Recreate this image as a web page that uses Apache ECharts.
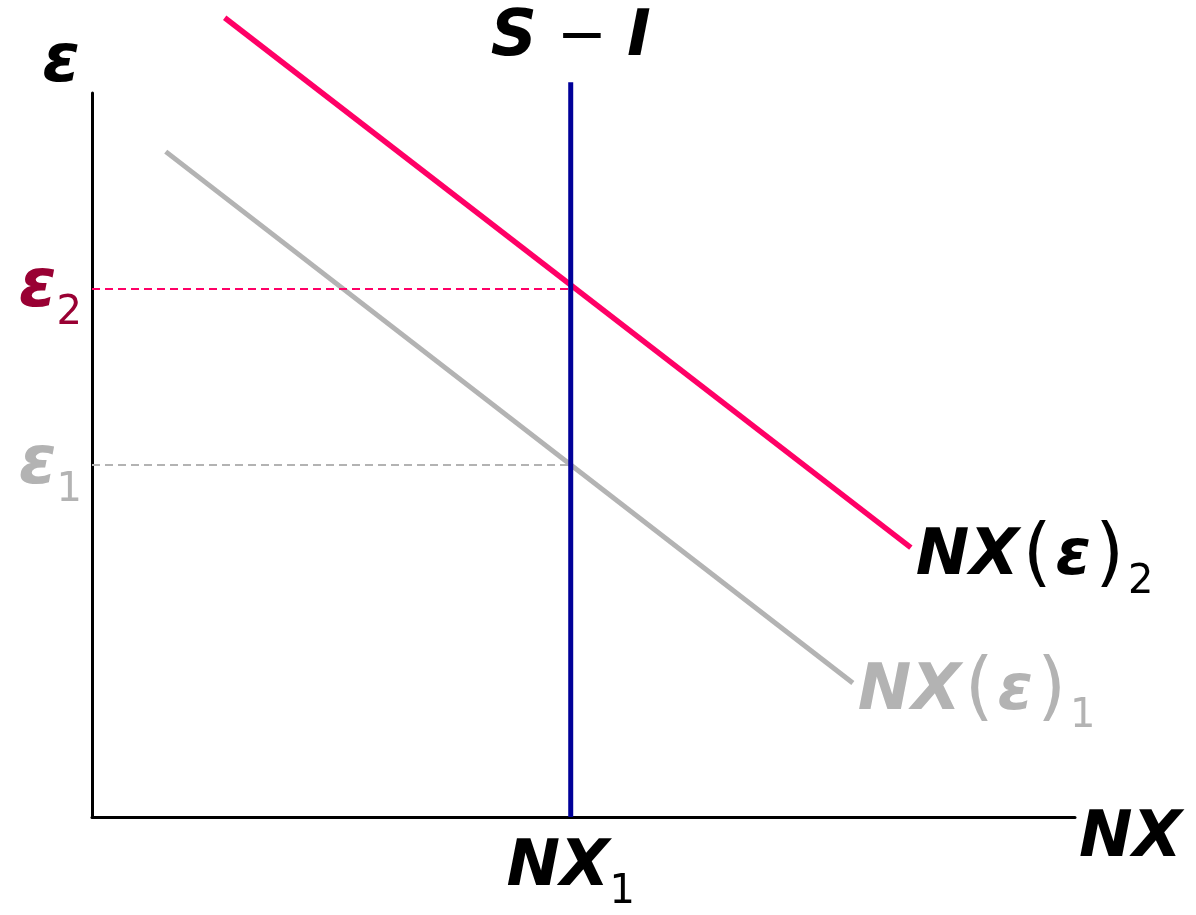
<!DOCTYPE html>
<html>
<head>
<meta charset="utf-8">
<script src="https://cdn.jsdelivr.net/npm/echarts@6/dist/echarts.min.js"></script>
<style>
  html, body { margin: 0; padding: 0; background: #fff; }
  #chart { width: 1196px; height: 915px; }
</style>
</head>
<body>
<div id="chart"></div>
<script>
// data (arbitrary units, axes run 0..10)
const nx1 = 4.87
const eps1 = 4.86
const eps2 = 7.30
const nxCurve1 = [[0.75, 9.19], [7.74, 1.85]]
const nxCurve2 = [[1.35, 11.04], [8.33, 3.72]]
const siLine = [[nx1, 0], [nx1, 10.15]]

const FONT = "'DejaVu Sans', sans-serif"
const PINK = '#ff0066'
const GRAY = '#b3b3b3'
const NAVY = '#000099'
const WINE = '#990033'

// rich text styles, same for all labels
const richStyles = (color) => ({
  b: { fontFamily: FONT, fontSize: 64, fontWeight: 'bold', fontStyle: 'italic', color: color },
  e: { fontFamily: FONT, fontSize: 68, fontWeight: 'bold', fontStyle: 'italic', color: color },
  p: { fontFamily: FONT, fontSize: 74, fontWeight: 'normal', color: color, padding: [0, 4, 0, 4] },
  m: { fontFamily: FONT, fontSize: 60, fontWeight: 'normal', color: color, padding: [0, 20, 0, 20] },
  s: { fontFamily: FONT, fontSize: 40, fontWeight: 'normal', color: color, padding: [50, 0, 0, 0] }
})

const chart = echarts.init(document.getElementById('chart'))

const option = {
  animation: false,
  grid: { left: 92, right: 121, top: 93, bottom: 98 },
  xAxis: {
    type: 'value', min: 0, max: 10,
    splitLine: { show: false }, axisTick: { show: false }, axisLabel: { show: false },
    axisLine: { lineStyle: { color: '#000', width: 3 } },
    name: '{b|NX}', nameLocation: 'end', nameGap: 4,
    nameTextStyle: { rich: richStyles('#000'), padding: [44, 0, 0, 0] }
  },
  yAxis: {
    type: 'value', min: 0, max: 10,
    splitLine: { show: false }, axisTick: { show: false }, axisLabel: { show: false },
    axisLine: { lineStyle: { color: '#000', width: 3 } },
    name: '{e|ε}', nameLocation: 'end', nameGap: -4,
    nameTextStyle: { rich: richStyles('#000'), align: 'right', padding: [0, 12, 0, 0] }
  },
  series: [
    {
      type: 'line', data: nxCurve1, clip: false, showSymbol: false, silent: true,
      lineStyle: { color: GRAY, width: 5 },
      endLabel: {
        show: true, distance: 5, offset: [0, 9],
        formatter: '{b|NX}{p|(}{b|ε}{p|)}{s|1}', rich: richStyles(GRAY)
      },
      markLine: {
        silent: true, symbol: 'none',
        lineStyle: { color: GRAY, width: 2, type: [8, 5] },
        label: { show: true, position: 'start', distance: 10, formatter: '{e|ε}{s|1}', rich: richStyles(GRAY) },
        data: [[{ coord: [0, eps1] }, { coord: [nx1, eps1] }]]
      }
    },
    {
      type: 'line', data: nxCurve2, clip: false, showSymbol: false, silent: true,
      lineStyle: { color: PINK, width: 5.5 },
      endLabel: {
        show: true, distance: 5, offset: [0, 10],
        formatter: '{b|NX}{p|(}{b|ε}{p|)}{s|2}', rich: richStyles('#000')
      },
      markLine: {
        silent: true, symbol: 'none',
        lineStyle: { color: PINK, width: 2, type: [8, 5] },
        label: { show: true, position: 'start', distance: 10, formatter: '{e|ε}{s|2}', rich: richStyles(WINE) },
        data: [[{ coord: [0, eps2] }, { coord: [nx1, eps2] }]]
      }
    },
    {
      type: 'line', clip: false, symbol: 'circle', symbolSize: 0, silent: true,
      lineStyle: { color: NAVY, width: 5 },
      data: [
        { value: siLine[0], label: { show: true, position: 'bottom', distance: 6, formatter: '{b|NX}{s|1}', rich: richStyles('#000') } },
        { value: siLine[1], label: { show: true, position: 'top', distance: 12, formatter: '{b|S}{m|−}{b|I}', rich: richStyles('#000') } }
      ]
    }
  ]
}

chart.setOption(option)
</script>
</body>
</html>
